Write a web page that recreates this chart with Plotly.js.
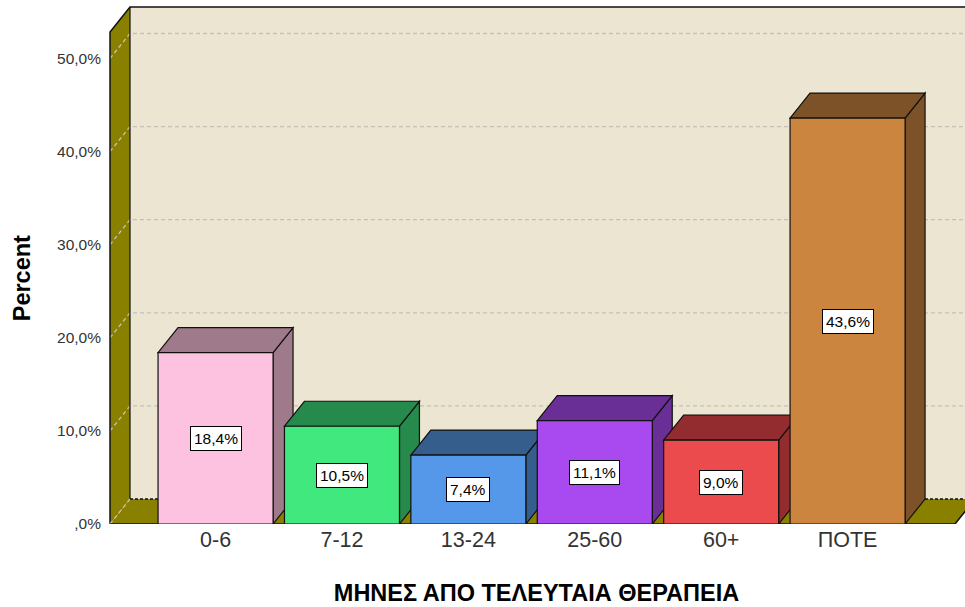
<!DOCTYPE html>
<html>
<head>
<meta charset="utf-8">
<script src="https://cdn.plot.ly/plotly-3.0.1.min.js"></script>
<style>html,body{margin:0;padding:0;background:#fff;}#chart{width:965px;height:607px;}</style>
</head>
<body>
<div id="chart"></div>
<script>
// ---- data ----
var categories = ["0-6", "7-12", "13-24", "25-60", "60+", "ΠΟΤΕ"];
var percents = [18.4, 10.5, 7.4, 11.1, 9.0, 43.6];
var yTickVals = [0, 10, 20, 30, 40, 50];
var yTickText = [",0%", "10,0%", "20,0%", "30,0%", "40,0%", "50,0%"];
var frontColors = ["#fec2e1", "#40e87e", "#5597e8", "#a94af0", "#ec4b4e", "#cc853f"];
var sideColors  = ["#9f7a8b", "#258a4c", "#365e8c", "#6a2e97", "#932c2f", "#7e5228"];

// ---- geometry (in axis units) ----
var FONT = "Liberation Sans, Arial, sans-serif";
var barW = 0.91, half = barW / 2;
var dX = 0.158, dY = 2.683;          // oblique depth offset
var xLeft = -0.835, xRightFront = 5.85;
var frontTop = 52.85;
var xRange = [-0.851, 5.929];
var yRange = [0, 55.85];

function path(pts) {
  return "M" + pts.map(function (p) { return p[0] + "," + p[1]; }).join("L") + "Z";
}
function line(pts) {
  return "M" + pts.map(function (p) { return p[0] + "," + p[1]; }).join("L");
}

var shapes = [];
function add(s) { s.xref = "x"; s.yref = "y"; s.layer = "below"; shapes.push(s); }

// back wall
add({type: "path", path: path([[xLeft + dX, dY], [xRightFront + dX + 1, dY], [xRightFront + dX + 1, frontTop + dY], [xLeft + dX, frontTop + dY]]),
     fillcolor: "#ebe5d2", line: {width: 0}});
// left wall
add({type: "path", path: path([[xLeft, 0], [xLeft, frontTop], [xLeft + dX, frontTop + dY], [xLeft + dX, dY]]),
     fillcolor: "#8a8000", line: {width: 0}});
// floor
add({type: "path", path: path([[xLeft, 0], [xRightFront, 0], [xRightFront + dX, dY], [xLeft + dX, dY]]),
     fillcolor: "#8a8000", line: {width: 0}});

// gridlines
yTickVals.forEach(function (v) {
  if (v === 0) return;
  add({type: "path", path: line([[xLeft, v], [xLeft + dX, v + dY], [xRightFront + dX + 1, v + dY]]),
       line: {color: "#c4c2b8", width: 1.3, dash: "4px,3px"}});
});
// wall outlines
add({type: "path", path: line([[xLeft, 0], [xLeft, frontTop], [xLeft + dX, frontTop + dY], [xRightFront + dX + 1, frontTop + dY]]),
     line: {color: "#111", width: 1.5}});
add({type: "path", path: line([[xLeft + dX, frontTop + dY], [xLeft + dX, dY]]),
     line: {color: "#111", width: 1.2}});
add({type: "path", path: line([[xLeft, 0], [xLeft + dX, dY]]),
     line: {color: "#c4c2b8", width: 1.3, dash: "4px,3px"}});
add({type: "path", path: line([[xLeft + dX, dY], [xRightFront + dX + 1, dY]]),
     line: {color: "#111", width: 1.3, dash: "3px,2px"}});
add({type: "path", path: line([[xLeft, 0], [xRightFront, 0], [xRightFront + dX, dY]]),
     line: {color: "#111", width: 1.5}});

// bar sides and tops (back to front order)
categories.forEach(function (c, i) {
  var v = percents[i], x0 = i - half, x1 = i + half;
  add({type: "path", path: path([[x1, 0], [x1, v], [x1 + dX, v + dY], [x1 + dX, dY]]),
       fillcolor: sideColors[i], line: {color: "#111", width: 1.2}});
  add({type: "path", path: path([[x0, v], [x1, v], [x1 + dX, v + dY], [x0 + dX, v + dY]]),
       fillcolor: sideColors[i], line: {color: "#111", width: 1.2}});
});

var annotations = categories.map(function (c, i) {
  return {x: i, y: percents[i] / 2, xref: "x", yref: "y",
          text: percents[i].toFixed(1).replace(".", ",") + "%",
          showarrow: false, bgcolor: "#ffffff", bordercolor: "#000", borderwidth: 1, borderpad: 3,
          font: {family: FONT, size: 15.5, color: "#000"}};
});
annotations.push({xref: "paper", yref: "y", x: -0.1, y: frontTop / 2, textangle: -90,
  text: "<b>Percent</b>", showarrow: false, xanchor: "center", yanchor: "middle",
  font: {family: FONT, size: 23.5, color: "#000"}});

var trace = {
  type: "bar",
  x: categories.map(function (c, i) { return i; }),
  y: percents,
  width: barW,
  marker: {color: frontColors, line: {color: "#111", width: 1.2}},
  hoverinfo: "skip"
};

var layout = {
  width: 965, height: 607,
  margin: {l: 108, r: 0, t: 4, b: 83},
  paper_bgcolor: "#fff", plot_bgcolor: "rgba(0,0,0,0)",
  showlegend: false,
  font: {family: FONT},
  xaxis: {range: xRange, tickvals: categories.map(function (c, i) { return i; }), ticktext: categories,
          showgrid: false, zeroline: false, showline: false, ticks: "",
          tickfont: {family: FONT, size: 21.5, color: "#333"},
          title: {text: "<b>ΜΗΝΕΣ ΑΠΟ ΤΕΛΕΥΤΑΙΑ ΘΕΡΑΠΕΙΑ</b>", font: {family: FONT, size: 23.5, color: "#000"}, standoff: 34}},
  yaxis: {range: yRange, tickvals: yTickVals, ticktext: yTickText,
          showgrid: false, zeroline: false, showline: false, ticks: "",
          tickfont: {family: FONT, size: 15.5, color: "#333"}, ticklabelstandoff: 6},
  shapes: shapes,
  annotations: annotations
};

Plotly.newPlot("chart", [trace], layout, {displayModeBar: false, staticPlot: true});
</script>
</body>
</html>
